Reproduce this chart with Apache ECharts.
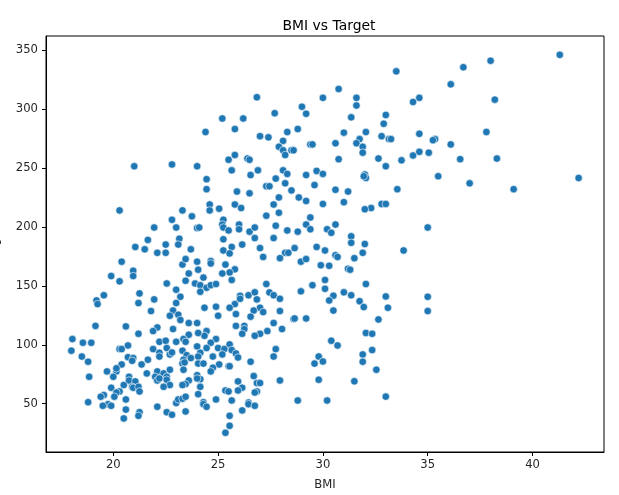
<!DOCTYPE html>
<html>
<head>
<meta charset="utf-8">
<style>
  html, body { margin: 0; padding: 0; background: #fff; }
  #chart { width: 619px; height: 495px; }
</style>
<script src="https://cdn.jsdelivr.net/npm/echarts@6/dist/echarts.min.js"></script>
</head>
<body>
<div id="chart"></div>
<script>
const xTicks = [20, 25, 30, 35, 40];
const yTicks = [50, 100, 150, 200, 250, 300, 350];
// one pair per dot
const bmi = [
  20.3,21.0,22.8,24.0,24.4,25.2,26.2,25.8,26.85,27.7,27.0,27.4,28.1,28.3,27.9,28.1,28.2,28.5,28.6,28.8,29.0,29.2,29.4,
  25.8,25.5,26.4,26.5,26.9,26.55,25.65,24.45,24.45,25.9,26.5,27.3,27.45,27.75,28.1,28.3,28.2,28.5,29.2,28.85,29.2,27.9,27.65,27.9,27.3,
  25.8,26.1,24.6,24.6,25.05,23.3,23.75,22.8,21.95,23.0,24.0,24.1,21.65,23.15,22.5,23.1,21.05,21.5,25.25,25.2,25.25,25.5,26.0,26.0,26.5,26.75,
  25.25,26.75,26.15,25.65,25.25,27.0,27.65,27.75,28.3,28.8,29.2,29.4,29.4,28.65,23.7,
  41.3,38.0,36.7,36.1,33.5,30.75,30.0,31.6,31.6,34.6,34.3,38.2,33.0,31.35,32.9,32.05,31.0,31.75,31.6,30.6,29.5,31.9,31.9,32.8,33.15,33.25,34.6,35.35,35.25,37.8,36.1,
  34.3,34.6,35.05,32.65,33.75,36.55,38.3,30.75,33.0,29.7,30.0,35.5,32.0,32.05,31.95,42.2,37.0,29.6,39.1,33.55,30.6,31.2,30.0,31.0,32.8,33.0,32.3,32.0,30.6,30.2,30.4,35.0,31.35,31.35,32.0,29.7,30.1,33.85,
  30.6,30.7,31.5,31.9,29.9,30.3,31.2,31.3,30.1,32.05,29.5,30.1,31.0,30.5,31.35,33.0,35.0,30.3,31.75,31.95,33.1,30.5,35.0,32.65,32.05,32.35,30.4,30.7,32.35,31.9,29.8,29.6,30.0,31.9,32.55,29.8,31.5,33.0,30.2,
  22.1,22.5,25.55,27.15,28.2,28.35,27.95,28.95,29.2,20.4,23.3,23.45,24.0,24.65,24.65,25.35,25.8,25.55,25.2,24.05,23.6,20.95,20.95,19.9,20.3,24.3,23.45,25.65,22.55,23.9,24.15,24.45,24.65,24.9,27.3,
  23.0,24.15,21.25,19.55,19.2,19.25,21.95,23.2,21.2,23.0,24.35,24.9,25.8,25.55,26.05,26.05,26.45,26.75,26.85,27.45,27.65,27.95,27.0,27.15,26.7,26.55,25.85,27.95,28.95,21.8,22.85,22.7,23.1,23.2,25.0,23.6,24.0,
  28.6,28.65,29.2,27.65,25.85,26.25,26.25,26.15,28.05,27.35,27.0,26.75,20.6,19.15,21.2,22.1,21.9,22.85,24.45,24.35,24.05,23.6,23.35,23.45,24.9,24.65,18.05,18.55,18.95,22.2,22.5,23.0,20.7,24.0,25.55,24.45,25.0,22.55,21.9,20.3,20.4,18.0,23.3,25.3,25.65,27.75,
  22.2,22.2,22.7,22.8,23.5,23.35,23.7,23.3,23.4,24.15,24.05,24.05,24.3,24.75,25.2,25.85,25.95,27.65,18.5,18.8,20.7,20.95,20.9,21.65,20.4,21.35,25.05,26.55,23.35,24.75,24.65,25.5,25.55,22.7,22.1,20.15,20.15,19.7,21.6,22.4,22.0,22.1,22.2,20.0,18.85,20.75,20.75,22.55,22.55,24.0,24.15,24.0,23.6,21.05,26.7,
  23.45,23.3,22.7,24.15,20.5,22.4,20.9,20.95,21.2,19.9,21.25,27.95,25.95,26.15,25.95,26.85,27.0,26.85,26.75,25.35,25.5,20.3,20.15,20.05,19.55,19.4,20.6,23.0,23.1,23.3,23.45,24.05,24.9,25.65,18.8,19.75,19.9,19.5,24.3,24.3,24.45,22.1,26.45,26.45,26.75,28.8,
  20.6,21.25,21.2,22.55,22.8,23.45,26.15,20.5,25.55,25.55,25.35
];
const target = [
  214,251.5,253,251.5,280.5,292,292,283,310,296.5,277,276,273,280.5,268,265,261,265,265,283,302,296,270,
  261,257,258,257,248,244,248,240.5,232,230,228.5,234.5,234.5,241,248,245,237,231,244,225,222,225,219,212,209.5,
  219,216,219,214,215.5,214,209,206,199.5,199.5,199,199.5,189,190,185,185,183,181,206,202,199.5,197,202,198,196,199.5,
  189.5,190.5,185,183,180,182,190.5,201,197,196,202,208,198,182,181,
  346,341,335.5,321,332,317,309.5,309.5,303,309.5,306,308,295,293,287.5,280.5,280,274.5,271,271,270,268,263,277,274.5,274.5,279,274.5,273.6,280.5,270,
  260.6,263.7,263,258,256.5,257.5,258,257.5,251.5,247.5,245,243,244.5,241.5,243,241.5,237,235.5,232,232,231.5,230,219.5,221,219.5,219.5,216,215,202,198,195,199.5,192,186.5,185.5,183,180,180,
  176,174.5,173.5,178,167.5,167,164.5,163.7,155,151.5,150.6,147.5,144.5,141.6,142,141,140.7,137.6,137,132,131.4,129,128.6,121.5,110,109.3,103.4,99.4,95.5,91.8,90,84,85.8,85.6,78.8,70.3,69,56,52.7,
  178,178,177.5,174.5,178,178,173.5,170.5,172.7,170.5,168,172.7,170.5,171,169,168,164,161.4,160.5,163.7,160.5,162.8,158.3,158.3,153.8,157,154.3,155,152,152,150.6,148.4,150.6,151.5,151.5,
  146.7,145,143.6,142,137.6,134.5,138.5,140.7,135.4,135.4,131.4,132.3,134.5,131.4,141.5,139,142,144.5,138.5,144.4,142,139,131.4,127.7,129,123.8,126,128.6,145.3,128.6,129,124.6,125.5,121,124.6,118.4,118.4,
  121.8,122.3,122.3,118.4,116,116,113.3,109.3,113.3,111.6,109.3,107.6,115.6,116,109.3,114.7,111.6,113.3,111.6,107.6,110,108.5,104.8,102.5,104.8,101.7,104.8,101.7,101.7,102.5,103.4,102.5,99.4,98.6,100.3,97.2,97.2,97.2,96.3,96.3,96.3,95,95,96.3,95.5,96.3,
  93.2,90,91.8,93.5,91.2,87.3,88.7,84.2,85,93.2,90,84,84,90,91.8,92.6,89.2,90,90,85.6,89.5,88.7,86.4,87.3,83.3,83.3,83.3,85.6,78.8,80.5,77.4,81.8,81.8,78.8,77.4,77.4,80,77.4,75.7,75.7,72.8,69.7,71.4,72.8,72.8,72.8,69.7,72.8,70.3,74.2,70.8,71.4,69.7,68.9,73.4,
  66.6,65.8,65.8,64.3,65.8,64.3,64.3,63.5,64.3,63.5,60.4,69.7,68.9,63.5,61.2,67.5,67.5,60.4,59.5,61.2,60.4,60.4,59.5,55.9,57.3,55.9,53.6,50.5,53.6,54.2,55.9,58.1,53.6,52.7,51.3,49.6,48.2,48.2,51.3,49.6,47.4,47.4,51,49.6,48.2,52.7,
  45,42.8,39.7,42.8,40.6,43.4,44.3,37.5,39.7,31.2,25.3
];
const points = bmi.map((v, i) => [v, target[i]]);

const chart = echarts.init(document.getElementById('chart'), null, { renderer: 'canvas' });
const FONT = '"DejaVu Sans", sans-serif';
const spine = { show: true, lineStyle: { color: '#000', width: 1 } };
const tickStyle = { length: 4, lineStyle: { color: '#000', width: 1 } };
const tickLabel = { color: '#262626', fontSize: 11.6, fontFamily: FONT };
const nameStyle = { color: '#262626', fontSize: 11.6, fontFamily: FONT };

chart.setOption({
  animation: false,
  backgroundColor: '#fff',
  title: {
    text: 'BMI vs Target',
    left: 324,
    top: 14,
    textAlign: 'center',
    textStyle: { color: '#000', fontSize: 13.9, fontWeight: 'normal', fontFamily: FONT }
  },
  grid: { left: 46, right: 15, top: 36, bottom: 43, outerBoundsMode: 'none', show: true, borderColor: '#000', borderWidth: 1 },
  xAxis: {
    type: 'value',
    min: 16.79,
    max: 43.41,
    name: 'BMI',
    nameLocation: 'middle',
    nameGap: 27,
    nameTextStyle: nameStyle,
    axisLine: spine,
    axisTick: { show: true, customValues: xTicks, ...tickStyle },
    axisLabel: { ...tickLabel, margin: 7, customValues: xTicks },
    splitLine: { show: false }
  },
  yAxis: {
    type: 'value',
    min: 9,
    max: 362,
    name: 'target',
    nameLocation: 'middle',
    nameGap: 45,
    nameTextStyle: nameStyle,
    axisLine: spine,
    axisTick: { show: true, customValues: yTicks, ...tickStyle },
    axisLabel: { ...tickLabel, margin: 8, customValues: yTicks },
    splitLine: { show: false }
  },
  series: [{
    type: 'scatter',
    data: points,
    symbolSize: 7.5,
    itemStyle: { color: '#1f77b4', borderColor: '#fff', borderWidth: 0.6, opacity: 1 }
  }]
});
</script>
</body>
</html>
